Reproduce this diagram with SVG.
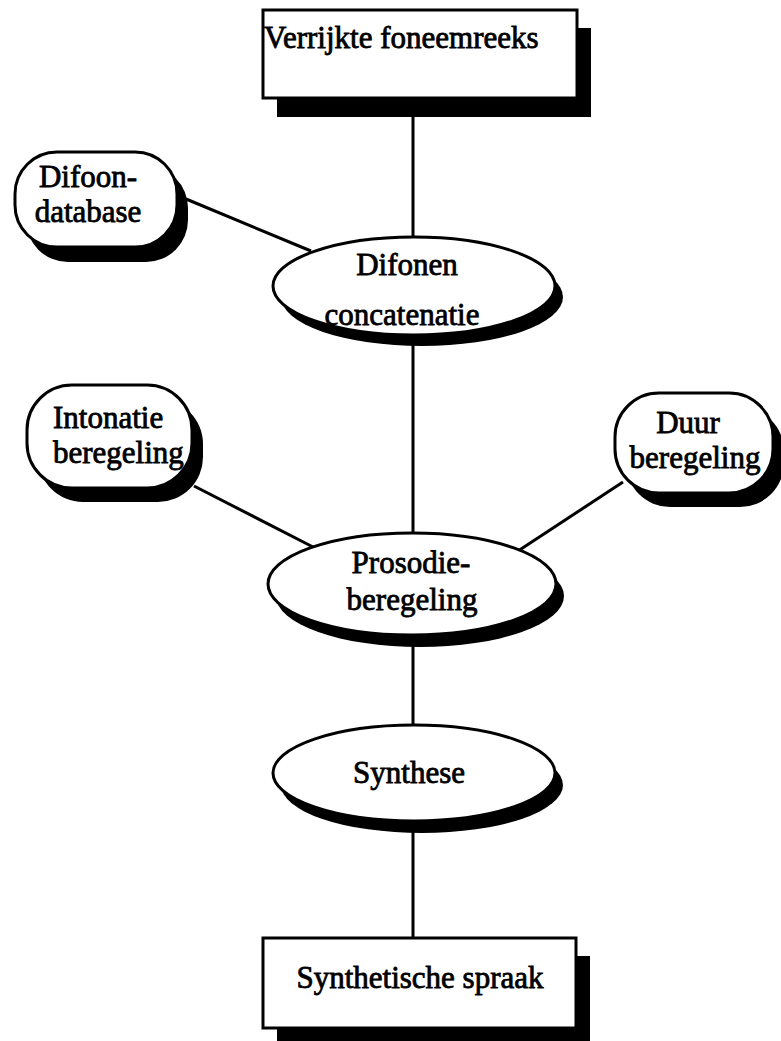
<svg xmlns="http://www.w3.org/2000/svg" width="781" height="1041" viewBox="0 0 781 1041">
<style>
.sh{fill:#000;stroke:none}
.bx{fill:#fff;stroke:#000;stroke-width:3}
.t{font-family:"Liberation Serif","Times New Roman",serif;font-size:31px;fill:#000;stroke:#000;stroke-width:0.8}
.c{stroke:#000;stroke-width:3;fill:none}
</style>
<rect width="781" height="1041" fill="#fff"/>
<g id="connectors">
<line class="c" x1="413" y1="116" x2="413" y2="240"/>
<line class="c" x1="413" y1="340" x2="413" y2="534"/>
<line class="c" x1="413" y1="645" x2="413" y2="727"/>
<line class="c" x1="413" y1="830" x2="413" y2="940"/>
<line class="c" x1="186" y1="199" x2="311" y2="251"/>
<line class="c" x1="194" y1="486" x2="315" y2="548"/>
<line class="c" x1="623" y1="482" x2="518" y2="551"/>
</g>
<g id="n-verrijkte">
<rect class="sh" x="277" y="28" width="314" height="89"/>
<rect class="bx" x="263" y="10" width="314" height="88"/>
<text class="t" x="264" y="48">Verrijkte foneemreeks</text>
</g>
<g id="n-difoondatabase">
<rect class="sh" x="26" y="166" width="162" height="96" rx="42" ry="42"/>
<rect class="bx" x="15" y="152" width="162" height="95" rx="42" ry="42"/>
<text class="t" x="88" y="187" text-anchor="middle">Difoon-</text>
<text class="t" x="88" y="222" text-anchor="middle">database</text>
</g>
<g id="n-difonen">
<ellipse class="sh" cx="422" cy="297" rx="141" ry="49"/>
<ellipse class="bx" cx="414" cy="286" rx="141" ry="49"/>
<text class="t" x="407" y="275" text-anchor="middle">Difonen</text>
<text class="t" x="402" y="325" text-anchor="middle">concatenatie</text>
</g>
<g id="n-intonatie">
<rect class="sh" x="38" y="399" width="165" height="103" rx="45" ry="45"/>
<rect class="bx" x="27" y="385" width="165" height="103" rx="45" ry="45"/>
<text class="t" x="53" y="428">Intonatie</text>
<text class="t" x="53" y="463">beregeling</text>
</g>
<g id="n-duur">
<rect class="sh" x="626" y="407" width="158" height="100" rx="44" ry="44"/>
<rect class="bx" x="615" y="393" width="158" height="100" rx="44" ry="44"/>
<text class="t" x="688" y="433" text-anchor="middle">Duur</text>
<text class="t" x="695" y="468" text-anchor="middle">beregeling</text>
</g>
<g id="n-prosodie">
<ellipse class="sh" cx="420" cy="596" rx="144" ry="51"/>
<ellipse class="bx" cx="412" cy="584" rx="144" ry="51"/>
<text class="t" x="411" y="573" text-anchor="middle">Prosodie-</text>
<text class="t" x="412" y="610" text-anchor="middle">beregeling</text>
</g>
<g id="n-synthese">
<ellipse class="sh" cx="422" cy="785" rx="141" ry="48"/>
<ellipse class="bx" cx="414" cy="773" rx="141" ry="48"/>
<text class="t" x="409" y="783" text-anchor="middle">Synthese</text>
</g>
<g id="n-synthetische">
<rect class="sh" x="277" y="956" width="313" height="90"/>
<rect class="bx" x="263" y="938" width="313" height="90"/>
<text class="t" x="420" y="988" text-anchor="middle">Synthetische spraak</text>
</g>
</svg>
